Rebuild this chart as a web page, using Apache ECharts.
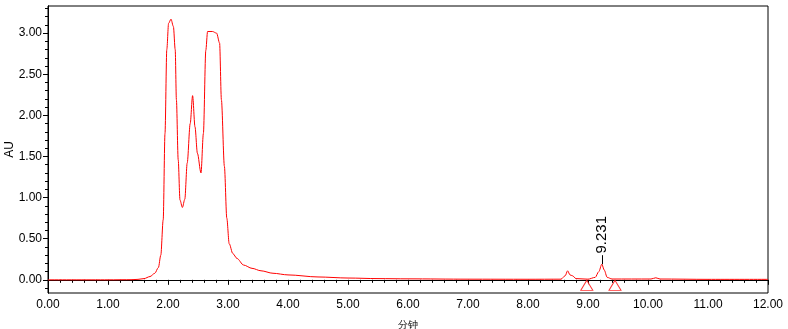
<!DOCTYPE html>
<html>
<head>
<meta charset="utf-8">
<script src="https://cdn.jsdelivr.net/npm/echarts@6/dist/echarts.min.js"></script>
<style>
  html, body { margin: 0; padding: 0; background: #fff; }
  #chart { width: 788px; height: 329px; }
</style>
</head>
<body>
<div id="chart"></div>
<script>
// retention time (min) and absorbance (AU)
var times = [0.00, 1.00, 1.40, 1.50, 1.60, 1.70, 1.78, 1.84, 1.88, 1.92, 1.95, 1.98, 2.01, 2.05, 2.09, 2.12,
  2.14, 2.17, 2.20, 2.24, 2.28, 2.32, 2.37, 2.41, 2.45, 2.49, 2.55, 2.59, 2.63, 2.66, 2.74, 2.81, 2.86,
  2.89, 2.94, 2.98, 3.02, 3.08, 3.15, 3.26, 3.40, 3.55, 3.75, 4.00, 4.50, 5.00, 5.50, 6.00, 7.00, 8.00,
  8.55, 8.62, 8.66, 8.70, 8.74, 8.80, 9.00, 9.12, 9.18, 9.231, 9.27, 9.32, 9.40, 10.05, 10.13, 10.20,
  11.00, 12.00];
var au = [0.000, 0.000, 0.002, 0.006, 0.015, 0.040, 0.080, 0.150, 0.300, 0.730, 1.780, 2.800, 3.120, 3.170, 3.080, 2.800,
  2.190, 1.460, 0.970, 0.880, 0.980, 1.420, 1.900, 2.240, 1.860, 1.540, 1.300, 1.780, 2.790, 3.020, 3.020, 3.000, 2.880,
  2.190, 1.380, 0.750, 0.440, 0.320, 0.260, 0.180, 0.140, 0.110, 0.080, 0.060, 0.035, 0.022, 0.015, 0.012, 0.008, 0.007,
  0.008, 0.050, 0.110, 0.060, 0.050, 0.015, 0.008, 0.030, 0.100, 0.190, 0.120, 0.030, 0.010, 0.010, 0.025, 0.010,
  0.006, 0.006];
var peakLabel = '9.231';
var peakTime = 9.231;
var peakTop = 0.19;
var markerTimes = [8.98, 9.45];
var markerLevel = -0.067;
var yMajor = [0, 0.5, 1, 1.5, 2, 2.5, 3];
var yMinor = [];
for (var i = -1; i <= 33; i++) yMinor.push(Math.round(i * 10) / 100);

var chart = echarts.init(document.getElementById('chart'));
var font = 'Liberation Sans, Arial, sans-serif';
var yBase = {
  type: 'value',
  min: -0.16,
  max: 3.33,
  position: 'left',
  splitLine: { show: false },
  axisLine: { show: true, lineStyle: { color: '#000' } }
};
chart.setOption({
  animation: false,
  grid: {
    left: 48, right: 20, top: 6, bottom: 36, containLabel: false, outerBoundsMode: 'none',
    show: true, borderColor: '#000', borderWidth: 1
  },
  xAxis: {
    type: 'value',
    min: 0,
    max: 12,
    interval: 1,
    name: '分钟',
    nameLocation: 'middle',
    nameGap: 27,
    nameMoveOverlap: false,
    nameTextStyle: { fontFamily: font, fontSize: 10, color: '#000' },
    splitLine: { show: false },
    axisLine: { lineStyle: { color: '#000' } },
    axisTick: { length: 5, lineStyle: { color: '#000' } },
    minorTick: { show: true, splitNumber: 5, length: 3, lineStyle: { color: '#000' } },
    axisLabel: {
      margin: 6, color: '#000', fontFamily: font, fontSize: 12,
      formatter: function (v) { return v.toFixed(2); }
    }
  },
  yAxis: [
    Object.assign({}, yBase, {
      name: 'AU',
      nameLocation: 'middle',
      nameGap: 38,
      nameRotate: 90,
      nameMoveOverlap: false,
      nameTextStyle: { fontFamily: font, fontSize: 12, color: '#000', verticalAlign: 'middle' },
      axisTick: { show: true, length: 5, customValues: yMajor, lineStyle: { color: '#000' } },
      axisLabel: {
        margin: 6, color: '#000', fontFamily: font, fontSize: 12, customValues: yMajor,
        formatter: function (v) { return v.toFixed(2); }
      }
    }),
    Object.assign({}, yBase, {
      axisTick: { show: true, length: 3, customValues: yMinor, lineStyle: { color: '#000' } },
      axisLabel: { show: false }
    })
  ],
  series: [
    {
      type: 'line',
      data: times.map(function (t, k) { return [t, au[k]]; }),
      showSymbol: false,
      smooth: 0.3,
      smoothMonotone: 'x',
      lineStyle: { color: '#ff0000', width: 1 },
      markLine: {
        silent: true,
        symbol: 'none',
        label: { show: false },
        lineStyle: { color: '#000', width: 1, type: 'solid' },
        data: [[{ coord: [peakTime, peakTop] }, { coord: [peakTime, peakTop + 0.11] }]]
      },
      markPoint: {
        silent: true,
        symbol: 'circle',
        symbolSize: 1,
        itemStyle: { color: 'transparent' },
        data: [{
          coord: [peakTime, peakTop + 0.13],
          label: {
            show: true, formatter: peakLabel, rotate: 90, position: 'inside',
            align: 'left', verticalAlign: 'middle',
            color: '#000', fontFamily: font, fontSize: 15
          }
        }]
      }
    },
    {
      type: 'scatter',
      data: markerTimes.map(function (t) { return [t, markerLevel]; }),
      symbol: 'triangle',
      symbolSize: [12, 10],
      itemStyle: { color: '#fff', borderColor: '#ff0000', borderWidth: 1 }
    }
  ]
});
</script>
</body>
</html>
